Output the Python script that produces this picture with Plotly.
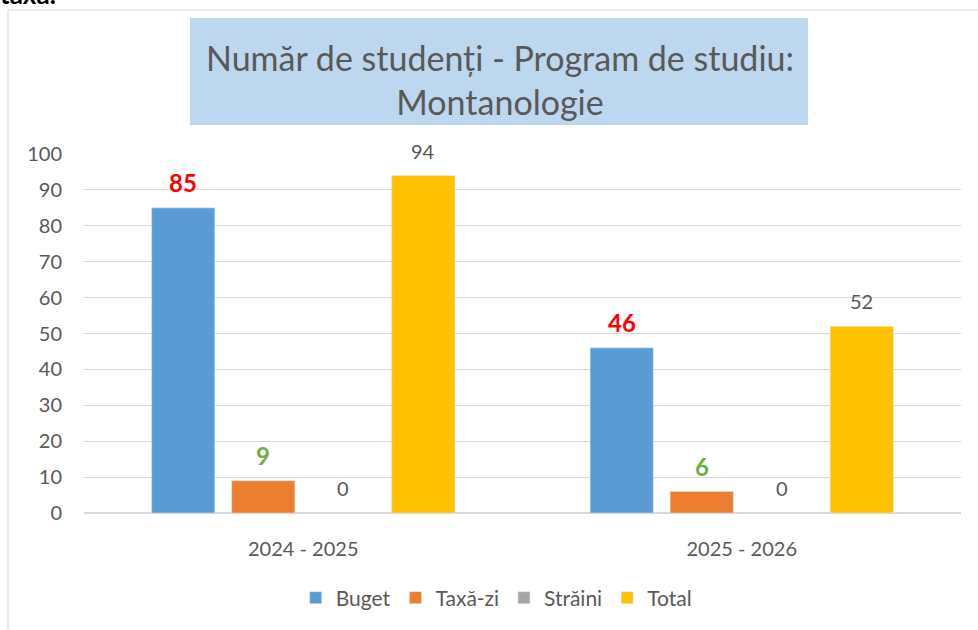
import plotly.graph_objects as go

categories = ["2024 - 2025", "2025 - 2026"]
buget = [85, 46]
taxa_zi = [9, 6]
straini = [0, 0]
total = [94, 52]
series_names = ["Buget", "Taxă-zi", "Străini", "Total"]
y_ticks = [0, 10, 20, 30, 40, 50, 60, 70, 80, 90, 100]

W, H = 978, 630
L, R, T, B = 84, 17, 154, 117
pw, ph = W - L - R, H - T - B

def px2x(px):
    return (px - L) / pw

def py2y(py):
    return 1 - (py - T) / ph

FONT = "Lato, Carlito, Calibri, sans-serif"
GRAY = "#595959"
BARGAP = 0.27
BARGROUPGAP = 0.21

fig = go.Figure()
specs = [
    (buget, "#5B9BD5", "<b>{}</b>", dict(color="#FF0000", size=24, family=FONT)),
    (taxa_zi, "#ED7D31", "<b>{}</b>", dict(color="#70AD47", size=24, family=FONT)),
    (straini, "#A5A5A5", "{}", dict(color=GRAY, size=20, family=FONT)),
    (total, "#FFC000", "{}", dict(color=GRAY, size=20, family=FONT)),
]
n = len(specs)
cat_w = pw / len(categories)
slot = cat_w * (1 - BARGAP) / n

annotations = []
for i, (name, (vals, col, tmpl, tf)) in enumerate(zip(series_names, specs)):
    fig.add_trace(go.Bar(
        x=categories, y=vals, name=name, marker_color=col,
    ))
    for c, v in zip(categories, vals):
        annotations.append(dict(
            text=tmpl.format(v), x=c, y=v, xref="x", yref="y",
            xshift=(i - (n - 1) / 2) * slot, yshift=25,
            xanchor="center", yanchor="middle", showarrow=False, font=tf,
        ))

annotations += [
    dict(text="Număr de studenți - Program de studiu:<br>Montanologie",
         xref="paper", yref="paper", x=px2x(500), y=py2y(79),
         xanchor="center", yanchor="middle", showarrow=False,
         font=dict(size=34, color=GRAY, family=FONT)),
    dict(text="<b>taxa.</b>", xref="paper", yref="paper", x=px2x(-2), y=py2y(12),
         xanchor="left", yanchor="bottom", showarrow=False,
         font=dict(size=26, color="black", family=FONT)),
]

fig.update_layout(
    width=W, height=H,
    margin=dict(l=L, r=R, t=T, b=B),
    paper_bgcolor="white", plot_bgcolor="white",
    barmode="group", bargap=BARGAP, bargroupgap=BARGROUPGAP,
    font=dict(family=FONT, color=GRAY, size=18),
    showlegend=True,
    legend=dict(orientation="h", x=0.47, xanchor="center", y=py2y(598), yanchor="middle",
                font=dict(size=21, color=GRAY), itemwidth=30, traceorder="normal"),
    shapes=[
        dict(type="rect", xref="paper", yref="paper",
             x0=px2x(8), x1=px2x(1100), y0=py2y(800), y1=py2y(10),
             line=dict(color="#D9D9D9", width=1), fillcolor="rgba(0,0,0,0)", layer="below"),
        dict(type="rect", xref="paper", yref="paper",
             x0=px2x(190), x1=px2x(808), y0=py2y(125), y1=py2y(18),
             line=dict(width=0), fillcolor="#BDD7EE", layer="below"),
    ],
    annotations=annotations,
)
fig.update_yaxes(range=[0, 100], tickvals=y_ticks, showgrid=True, gridcolor="#D9D9D9",
                 gridwidth=1, zeroline=True, zerolinecolor="#D9D9D9", showline=False,
                 tickfont=dict(size=20, color=GRAY), ticklabelstandoff=21, ticks="")
fig.update_xaxes(showgrid=False, showline=False, ticks="",
                 tickfont=dict(size=20, color=GRAY), ticklabelstandoff=22)

fig.write_html("out.html", config={"displayModeBar": False},
               post_script="document.body.style.margin='0px';")
